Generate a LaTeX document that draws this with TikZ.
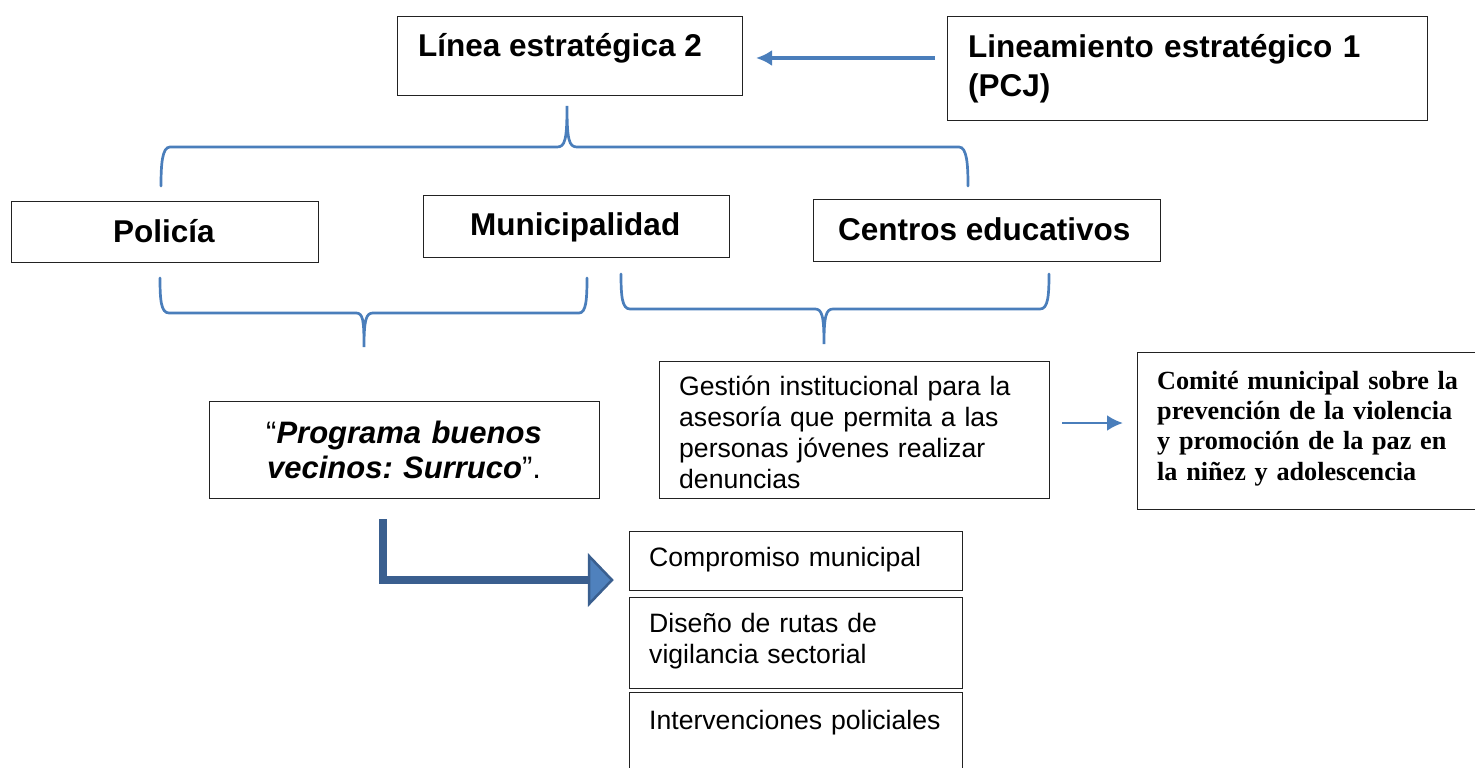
\documentclass[tikz,border=0pt]{standalone}
\usepackage{fontspec}
\setmainfont{Liberation Sans}
\newfontfamily\timesfont{Liberation Serif}
\usetikzlibrary{arrows.meta}
\frenchspacing
\definecolor{lineblue}{HTML}{4A7EBB}
\definecolor{darkblue}{HTML}{3A5F8F}
\definecolor{fillblue}{HTML}{4F81BD}
\definecolor{boxline}{HTML}{222222}
\tikzset{
  box/.style={draw=boxline, line width=1.2pt, anchor=north west, inner sep=0pt},
  bigtxt/.style={anchor=base west, inner sep=0pt, font=\fontsize{31.5}{38}\selectfont\bfseries},
  regtxt/.style={anchor=base west, inner sep=0pt, align=left, font=\fontsize{26.6}{31}\selectfont},
  brace/.style={draw=lineblue, line width=2.7pt, line cap=round},
  thinarrow/.style={draw=lineblue, line width=3.3pt, -{Latex[length=16pt,width=16pt]}},
}
\begin{document}
\begin{tikzpicture}[x=1pt,y=-1pt]
\useasboundingbox (0,0) rectangle (1475,768);
% boxes
\node[box, minimum width=345, minimum height=79] (l2) at (397,16) {};
\node[box, minimum width=480, minimum height=104] (lin) at (947,16) {};
\node[box, minimum width=307, minimum height=61] (pol) at (11,201) {};
\node[box, minimum width=306, minimum height=62] (mun) at (423,195) {};
\node[box, minimum width=347, minimum height=62] (cen) at (813,199) {};
\node[box, minimum width=390, minimum height=97] (prog) at (209,401) {};
\node[box, minimum width=390, minimum height=137] (ges) at (659,361) {};
\node[box, minimum width=345, minimum height=157] (com) at (1137,352) {};
\node[box, minimum width=333, minimum height=59] (cmp) at (629,531) {};
\node[box, minimum width=333, minimum height=91] (dis) at (629,597) {};
\node[box, minimum width=333, minimum height=100] (int) at (629,692) {};
% texts
\node[bigtxt] (tl2) at (418,57) {Línea estratégica 2};
\node[bigtxt, text width=460, align=left, font=\fontsize{31.5}{39}\selectfont\bfseries] (tlin) at (968,58) {Lineamiento estratégico 1\\(PCJ)};
\node[bigtxt] (tpol) at (113,242) {Policía};
\node[bigtxt] (tmun) at (470,235) {Municipalidad};
\node[bigtxt] (tcen) at (838,240) {Centros educativos};
\node[anchor=base, inner sep=0pt, text width=390, align=center, font=\fontsize{31}{35}\selectfont] (tprog) at (404,443) {“\textbf{\textit{Programa buenos}}\\\textbf{\textit{vecinos: Surruco}}”.};
\node[regtxt, text width=370] (tges) at (679,395) {Gestión institucional para la\\asesoría que permita a las\\personas jóvenes realizar\\denuncias};
\node[anchor=base west, inner sep=0pt, text width=330, align=left, font=\fontsize{26.2}{30.4}\selectfont\timesfont\bfseries] (tcom) at (1157,389) {Comité municipal sobre la\\prevención de la violencia\\y promoción de la paz en\\la niñez y adolescencia};
\node[regtxt, text width=320] (tcmp) at (649,566) {Compromiso municipal};
\node[regtxt, text width=320] (tdis) at (649,632) {Diseño de rutas de\\vigilancia sectorial};
\node[regtxt, text width=320] (tint) at (649,729) {Intervenciones policiales};
% connector arrows
\coordinate (a1s) at (935,58);
\coordinate (a1e) at (756,58);
\draw[thinarrow] (a1s) -- (a1e);
\coordinate (a2s) at (1062,423);
\coordinate (a2e) at (1123,423);
\draw[thinarrow, line width=2.8pt] (a2s) -- (a2e);
% braces
\draw[brace] (161,186) .. controls (161,165) and (162,147) .. (170,147) -- (557,147)
  .. controls (565,147) and (567,140) .. (567,106)
  .. controls (567,140) and (569,147) .. (577,147) -- (959,147)
  .. controls (967,147) and (968,165) .. (968,186);
\draw[brace] (160,278) .. controls (160,300) and (161,313) .. (169,313) -- (356,313)
  .. controls (363,313) and (364,320) .. (364,347)
  .. controls (364,320) and (366,313) .. (373,313) -- (579,313)
  .. controls (586,313) and (587,300) .. (587,278);
\draw[brace] (621,274) .. controls (621,296) and (622,309) .. (630,309) -- (815,309)
  .. controls (822,309) and (824,316) .. (824,344)
  .. controls (824,316) and (826,309) .. (833,309) -- (1040,309)
  .. controls (1048,309) and (1049,296) .. (1049,274);
% big bent arrow
\coordinate (b1) at (383,519);
\coordinate (b2) at (383,580);
\coordinate (b3) at (591,580);
\draw[darkblue, line width=8pt] (b1) -- (b2) -- (b3);
\draw[darkblue, fill=fillblue, line width=2.5pt, line join=miter] (589,556) -- (612,580) -- (589,604) -- cycle;
\end{tikzpicture}
\end{document}
